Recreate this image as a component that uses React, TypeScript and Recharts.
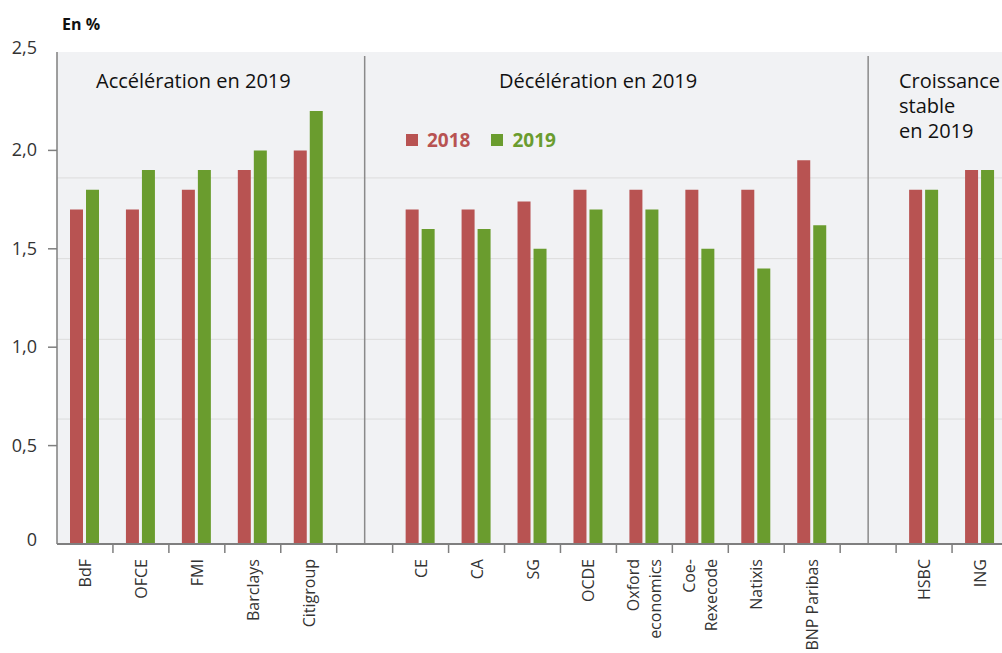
import React from "react";
import {
  BarChart,
  Bar,
  XAxis,
  YAxis,
  CartesianGrid,
  ReferenceLine,
  Legend,
} from "recharts";

const categories = [
  "BdF",
  "OFCE",
  "FMI",
  "Barclays",
  "Citigroup",
  "sep1",
  "CE",
  "CA",
  "SG",
  "OCDE",
  "Oxford economics",
  "Coe-Rexecode",
  "Natixis",
  "BNP Paribas",
  "sep2",
  "HSBC",
  "ING",
];

const tickLabels: string[][] = [
  ["BdF"],
  ["OFCE"],
  ["FMI"],
  ["Barclays"],
  ["Citigroup"],
  [],
  ["CE"],
  ["CA"],
  ["SG"],
  ["OCDE"],
  ["Oxford", "economics"],
  ["Coe-", "Rexecode"],
  ["Natixis"],
  ["BNP Paribas"],
  [],
  ["HSBC"],
  ["ING"],
];

const values2018 = [1.7, 1.7, 1.8, 1.9, 2.0, null, 1.7, 1.7, 1.74, 1.8, 1.8, 1.8, 1.8, 1.95, null, 1.8, 1.9];
const values2019 = [1.8, 1.9, 1.9, 2.0, 2.2, null, 1.6, 1.6, 1.5, 1.7, 1.7, 1.5, 1.4, 1.62, null, 1.8, 1.9];

const yTicks = [0, 0.5, 1, 1.5, 2, 2.5];
const gridValues = [0.635, 1.04, 1.45, 1.86];

const groupTitles = [
  { lines: ["Accélération en 2019"], x: 96 },
  { lines: ["Décélération en 2019"], x: 499 },
  { lines: ["Croissance", "stable", "en 2019"], x: 899 },
];

const RED = "#b85352";
const GREEN = "#6a9c2e";
const AXIS = "#7f7f7f";
const FONT = "'Open Sans', 'Noto Sans', sans-serif";

const data = categories.map((c, i) => ({
  cat: c,
  v2018: values2018[i],
  v2019: values2019[i],
}));

const XTick = (props: any) => {
  const { x, y, payload, width } = props;
  const idx = payload.index ?? categories.indexOf(payload.value);
  const half =
    typeof payload.offset === "number" && payload.offset > 0
      ? payload.offset
      : width
      ? width / categories.length / 2
      : 28;
  const lines = tickLabels[idx] || [];
  const ty = y + 15;
  const n = lines.length;
  return (
    <g>
      {idx > 0 && (
        <line x1={x - half} x2={x - half} y1={y} y2={y + 9} stroke={AXIS} strokeWidth={1.5} />
      )}
      {n > 0 && (
        <text
          transform={`rotate(-90 ${x} ${ty})`}
          x={x}
          y={ty}
          textAnchor="end"
          fontFamily={FONT}
          fontSize={16}
          fill="#333"
        >
          {lines.map((l, i) => (
            <tspan key={i} x={x} dy={i === 0 ? 6 - (n - 1) * 11 : 22}>
              {l}
            </tspan>
          ))}
        </text>
      )}
    </g>
  );
};

const YTick = (props: any) => {
  const { x, y, payload } = props;
  const v = payload.value as number;
  const label = v === 0 ? "0" : v.toFixed(1).replace(".", ",");
  const showLine = v > 0 && v < 2.5;
  const shift = v === 0 || v === 2.5 ? -4 : 0;
  return (
    <g>
      {showLine && <line x1={x + 11} x2={x + 20} y1={y} y2={y} stroke={AXIS} strokeWidth={1.5} />}
      <text x={x} y={y + shift} dy={6} textAnchor="end" fontFamily={FONT} fontSize={18} fill="#333">
        {label}
      </text>
    </g>
  );
};

const renderLegend = (props: any) => {
  const { payload } = props;
  return (
    <div style={{ display: "flex", alignItems: "center", fontFamily: FONT }}>
      {(payload || []).map((p: any, i: number) => (
        <div key={i} style={{ display: "flex", alignItems: "center", marginRight: 21 }}>
          <div style={{ width: 12, height: 12, background: p.color, marginRight: 9 }} />
          <span style={{ color: p.color, fontWeight: 700, fontSize: 19, lineHeight: "24px" }}>{p.value}</span>
        </div>
      ))}
    </div>
  );
};

export default function App() {
  return (
    <div style={{ position: "relative", width: 1002, height: 653, overflow: "hidden" }}>
      <style>{`body{margin:0;}`}</style>
      <BarChart
        width={1010}
        height={653}
        data={data}
        margin={{ top: 52, right: 2, left: 0, bottom: 0 }}
        barSize={13}
        barGap={3}
      >
        <CartesianGrid
          vertical={false}
          horizontalValues={gridValues}
          fill="#f1f2f4"
          fillOpacity={1}
          stroke="#dcdcdc"
        />
        <XAxis
          dataKey="cat"
          interval={0}
          height={109}
          tickLine={false}
          tickSize={0}
          tickMargin={0}
          axisLine={{ stroke: AXIS, strokeWidth: 2 }}
          tick={<XTick />}
        />
        <YAxis
          width={57}
          domain={[0, 2.5]}
          ticks={yTicks}
          tickSize={9}
          tickMargin={11}
          tickLine={false}
          axisLine={{ stroke: AXIS, strokeWidth: 1.5 }}
          tick={<YTick />}
        />
        <ReferenceLine
          segment={[
            { x: "sep1", y: 2.48 },
            { x: "sep1", y: 0 },
          ]}
          stroke="#8a8a8a"
          strokeWidth={1.5}
        />
        <ReferenceLine
          segment={[
            { x: "sep2", y: 2.48 },
            { x: "sep2", y: 0 },
          ]}
          stroke="#8a8a8a"
          strokeWidth={1.5}
        />
        <Legend
          layout="horizontal"
          verticalAlign="middle"
          align="center"
          content={renderLegend}
          wrapperStyle={{ position: "absolute", left: 406, top: 128, width: "auto", height: "auto" }}
        />
        <Bar dataKey="v2018" name="2018" fill={RED} isAnimationActive={false} />
        <Bar dataKey="v2019" name="2019" fill={GREEN} isAnimationActive={false} />
      </BarChart>
      <svg
        width={1002}
        height={653}
        style={{ position: "absolute", left: 0, top: 0, pointerEvents: "none" }}
      >
        <text x={62} y={30} fontFamily={FONT} fontSize={16} fontWeight={700} fill="#111">
          En %
        </text>
        {groupTitles.map((g, gi) => (
          <text key={gi} x={g.x} y={88} fontFamily={FONT} fontSize={20} fill="#111">
            {g.lines.map((l, i) => (
              <tspan key={i} x={g.x} dy={i === 0 ? 0 : 25}>
                {l}
              </tspan>
            ))}
          </text>
        ))}
      </svg>
    </div>
  );
}
